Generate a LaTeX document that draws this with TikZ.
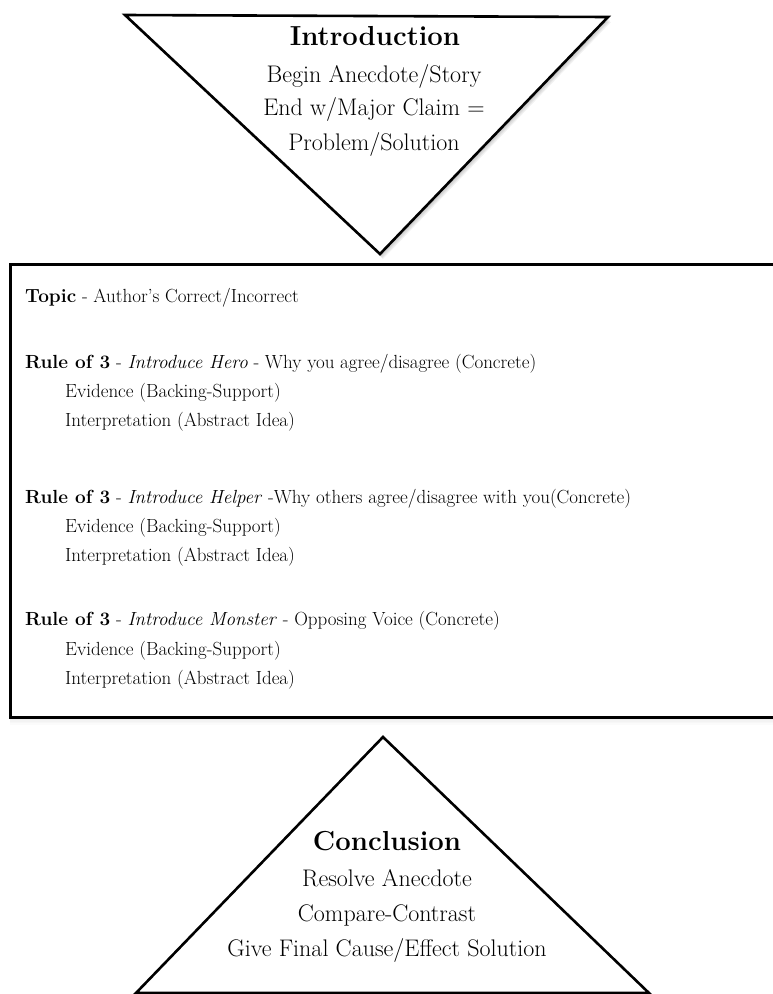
\documentclass[tikz,border=0pt]{standalone}
\usetikzlibrary{calc}
\begin{document}
\begin{tikzpicture}[x=1pt,y=-1pt,
  shapeline/.style={draw=black, line width=2.6pt, fill=white, line join=miter},
  softshadow/.style={fill=black, opacity=0.05},
  boxline/.style={draw=black, line width=3pt, fill=white},
  heading/.style={font=\fontsize{27.5}{33}\selectfont\bfseries, anchor=base, inner sep=0pt},
  tritext/.style={font=\fontsize{24}{29}\selectfont, anchor=base, inner sep=0pt},
  boxtext/.style={font=\fontsize{19}{23}\selectfont, anchor=base west, inner sep=0pt}]
\useasboundingbox (0,0) rectangle (772,994);
\fill[white] (0,0) rectangle (772,994);

% soft shadows
\foreach \d in {1,2,3,4,5}{
  \fill[softshadow] ($(125,15)+(\d*0.6,\d)$) -- ($(608,17)+(\d*0.6,\d)$) -- ($(380,254)+(\d*0.6,\d)$) -- cycle;
  \fill[softshadow] ($(383,737)+(\d*0.6,\d)$) -- ($(649,993)+(\d*0.6,\d)$) -- ($(136,993)+(\d*0.6,\d)$) -- cycle;
  \fill[black, opacity=0.015] ($(10,264)+(0,\d*1.5)$) rectangle ($(800,717)+(0,\d*1.5)$);
}

% introduction triangle
\draw[shapeline] (125,15) -- (608,17) -- (380,254) -- cycle;
\node[heading] (intro) at (375,45) {Introduction};
\node[tritext] (i1) at (374,82) {Begin Anecdote/Story};
\node[tritext] (i2) at (374,115) {End w/Major Claim =};
\node[tritext] (i3) at (374,150) {Problem/Solution};

% body box
\draw[boxline] (10,264) rectangle (800,717);
\node[boxtext] (topic) at (25,302) {\textbf{Topic} - Author’s Correct/Incorrect};

\node[boxtext] (r1) at (25,368) {\textbf{Rule of 3} - \textit{Introduce Hero} - Why you agree/disagree (Concrete)};
\node[boxtext] (r1e) at (65,397) {Evidence (Backing-Support)};
\node[boxtext] (r1i) at (65,426) {Interpretation (Abstract Idea)};

\node[boxtext] (r2) at (25,503) {\textbf{Rule of 3} - \textit{Introduce Helper} -Why others agree/disagree with you(Concrete)};
\node[boxtext] (r2e) at (65,532) {Evidence (Backing-Support)};
\node[boxtext] (r2i) at (65,561) {Interpretation (Abstract Idea)};

\node[boxtext] (r3) at (25,625) {\textbf{Rule of 3} - \textit{Introduce Monster} - Opposing Voice (Concrete)};
\node[boxtext] (r3e) at (65,655) {Evidence (Backing-Support)};
\node[boxtext] (r3i) at (65,684) {Interpretation (Abstract Idea)};

% conclusion triangle
\draw[shapeline] (383,737) -- (649,993) -- (136,993) -- cycle;
\node[heading] (concl) at (387,850) {Conclusion};
\node[tritext] (c1) at (387,886) {Resolve Anecdote};
\node[tritext] (c2) at (387,921) {Compare-Contrast};
\node[tritext] (c3) at (387,956) {Give Final Cause/Effect Solution};
\end{tikzpicture}
\end{document}
